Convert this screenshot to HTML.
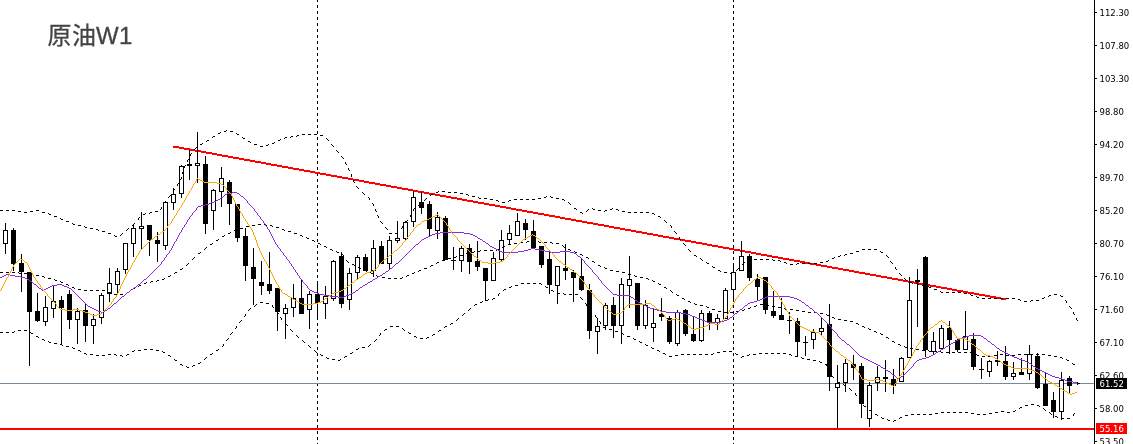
<!DOCTYPE html>
<html lang="zh"><head><meta charset="utf-8"><title>原油W1</title>
<style>html,body{margin:0;padding:0;background:#fff;overflow:hidden}svg{display:block}.ax{font-family:"DejaVu Sans","Liberation Sans",sans-serif;font-size:8.5px;fill:#000}.ttl{font-family:"Liberation Sans","Noto Sans CJK SC",sans-serif;font-size:24px;fill:#444;stroke:#444;stroke-width:0.3px}</style></head><body>
<svg width="1133" height="444" viewBox="0 0 1133 444">
<rect width="1133" height="444" fill="#fff"/>
<line x1="317.5" y1="0" x2="317.5" y2="444" stroke="#000" stroke-width="1" stroke-dasharray="3 3" stroke-dashoffset="1" shape-rendering="crispEdges"/>
<line x1="733.5" y1="0" x2="733.5" y2="444" stroke="#000" stroke-width="1" stroke-dasharray="3 3" stroke-dashoffset="1" shape-rendering="crispEdges"/>
<rect x="0" y="383" width="1094" height="1" fill="#778899" shape-rendering="crispEdges"/>
<path d="M173 146h6v2h-6zM179 147h5v2h-5zM184 148h6v2h-6zM190 149h5v2h-5zM195 150h6v2h-6zM201 151h5v2h-5zM206 152h6v2h-6zM212 153h5v2h-5zM217 154h5v2h-5zM222 155h6v2h-6zM228 156h5v2h-5zM233 157h6v2h-6zM239 158h5v2h-5zM244 159h6v2h-6zM250 160h5v2h-5zM255 161h6v2h-6zM261 162h5v2h-5zM266 163h5v2h-5zM271 164h6v2h-6zM277 165h5v2h-5zM282 166h6v2h-6zM288 167h5v2h-5zM293 168h6v2h-6zM299 169h5v2h-5zM304 170h6v2h-6zM310 171h5v2h-5zM315 172h5v2h-5zM320 173h6v2h-6zM326 174h5v2h-5zM331 175h6v2h-6zM337 176h5v2h-5zM342 177h6v2h-6zM348 178h5v2h-5zM353 179h6v2h-6zM359 180h5v2h-5zM364 181h5v2h-5zM369 182h6v2h-6zM375 183h5v2h-5zM380 184h6v2h-6zM386 185h5v2h-5zM391 186h6v2h-6zM397 187h5v2h-5zM402 188h6v2h-6zM408 189h5v2h-5zM413 190h5v2h-5zM418 191h6v2h-6zM424 192h5v2h-5zM429 193h6v2h-6zM435 194h5v2h-5zM440 195h6v2h-6zM446 196h5v2h-5zM451 197h6v2h-6zM457 198h5v2h-5zM462 199h5v2h-5zM467 200h6v2h-6zM473 201h5v2h-5zM478 202h6v2h-6zM484 203h5v2h-5zM489 204h6v2h-6zM495 205h5v2h-5zM500 206h6v2h-6zM506 207h5v2h-5zM511 208h5v2h-5zM516 209h6v2h-6zM522 210h5v2h-5zM527 211h6v2h-6zM533 212h5v2h-5zM538 213h6v2h-6zM544 214h5v2h-5zM549 215h6v2h-6zM555 216h5v2h-5zM560 217h5v2h-5zM565 218h6v2h-6zM571 219h5v2h-5zM576 220h6v2h-6zM582 221h5v2h-5zM587 222h6v2h-6zM593 223h5v2h-5zM598 224h6v2h-6zM604 225h5v2h-5zM609 226h5v2h-5zM614 227h6v2h-6zM620 228h5v2h-5zM625 229h6v2h-6zM631 230h5v2h-5zM636 231h6v2h-6zM642 232h5v2h-5zM647 233h6v2h-6zM653 234h5v2h-5zM658 235h5v2h-5zM663 236h6v2h-6zM669 237h5v2h-5zM674 238h6v2h-6zM680 239h5v2h-5zM685 240h6v2h-6zM691 241h5v2h-5zM696 242h6v2h-6zM702 243h5v2h-5zM707 244h5v2h-5zM712 245h6v2h-6zM718 246h5v2h-5zM723 247h6v2h-6zM729 248h5v2h-5zM734 249h6v2h-6zM740 250h5v2h-5zM745 251h6v2h-6zM751 252h5v2h-5zM756 253h5v2h-5zM761 254h6v2h-6zM767 255h5v2h-5zM772 256h6v2h-6zM778 257h5v2h-5zM783 258h6v2h-6zM789 259h5v2h-5zM794 260h6v2h-6zM800 261h5v2h-5zM805 262h5v2h-5zM810 263h6v2h-6zM816 264h5v2h-5zM821 265h6v2h-6zM827 266h5v2h-5zM832 267h6v2h-6zM838 268h5v2h-5zM843 269h6v2h-6zM849 270h5v2h-5zM854 271h5v2h-5zM859 272h6v2h-6zM865 273h5v2h-5zM870 274h6v2h-6zM876 275h5v2h-5zM881 276h6v2h-6zM887 277h5v2h-5zM892 278h6v2h-6zM898 279h5v2h-5zM903 280h5v2h-5zM908 281h6v2h-6zM914 282h5v2h-5zM919 283h6v2h-6zM925 284h5v2h-5zM930 285h6v2h-6zM936 286h5v2h-5zM941 287h6v2h-6zM947 288h5v2h-5zM952 289h5v2h-5zM957 290h6v2h-6zM963 291h5v2h-5zM968 292h6v2h-6zM974 293h5v2h-5zM979 294h6v2h-6zM985 295h5v2h-5zM990 296h6v2h-6zM996 297h5v2h-5zM1001 298h5v2h-5z" fill="#ff0000" shape-rendering="crispEdges"/>
<g shape-rendering="crispEdges">
<rect x="5" y="223" width="1" height="31" fill="#000"/><rect x="3" y="230" width="5" height="14" fill="#000"/><rect x="4" y="231" width="3" height="12" fill="#fff"/>
<rect x="13" y="228" width="1" height="43" fill="#000"/><rect x="11" y="230" width="5" height="34" fill="#000"/>
<rect x="21" y="254" width="1" height="38" fill="#000"/><rect x="19" y="263" width="5" height="9" fill="#000"/>
<rect x="29" y="272" width="1" height="94" fill="#000"/><rect x="27" y="272" width="5" height="40" fill="#000"/>
<rect x="37" y="293" width="1" height="29" fill="#000"/><rect x="35" y="311" width="5" height="10" fill="#000"/>
<rect x="45" y="296" width="1" height="30" fill="#000"/><rect x="43" y="307" width="5" height="15" fill="#000"/><rect x="44" y="308" width="3" height="13" fill="#fff"/>
<rect x="53" y="286" width="1" height="32" fill="#000"/><rect x="51" y="301" width="5" height="8" fill="#000"/><rect x="52" y="302" width="3" height="6" fill="#fff"/>
<rect x="61" y="296" width="1" height="48" fill="#000"/><rect x="59" y="300" width="5" height="8" fill="#000"/>
<rect x="69" y="290" width="1" height="39" fill="#000"/><rect x="67" y="294" width="5" height="26" fill="#000"/>
<rect x="77" y="308" width="1" height="36" fill="#000"/><rect x="75" y="311" width="5" height="9" fill="#000"/><rect x="76" y="312" width="3" height="7" fill="#fff"/>
<rect x="85" y="303" width="1" height="39" fill="#000"/><rect x="83" y="310" width="5" height="16" fill="#000"/>
<rect x="93" y="314" width="1" height="30" fill="#000"/><rect x="91" y="319" width="5" height="7" fill="#000"/><rect x="92" y="320" width="3" height="5" fill="#fff"/>
<rect x="101" y="293" width="1" height="31" fill="#000"/><rect x="99" y="295" width="5" height="23" fill="#000"/><rect x="100" y="296" width="3" height="21" fill="#fff"/>
<rect x="109" y="268" width="1" height="34" fill="#000"/><rect x="107" y="283" width="5" height="11" fill="#000"/><rect x="108" y="284" width="3" height="9" fill="#fff"/>
<rect x="117" y="268" width="1" height="25" fill="#000"/><rect x="115" y="271" width="5" height="14" fill="#000"/><rect x="116" y="272" width="3" height="12" fill="#fff"/>
<rect x="125" y="243" width="1" height="31" fill="#000"/><rect x="123" y="243" width="5" height="27" fill="#000"/><rect x="124" y="244" width="3" height="25" fill="#fff"/>
<rect x="133" y="224" width="1" height="33" fill="#000"/><rect x="131" y="228" width="5" height="16" fill="#000"/><rect x="132" y="229" width="3" height="14" fill="#fff"/>
<rect x="141" y="212" width="1" height="37" fill="#000"/><rect x="139" y="226" width="5" height="3" fill="#000"/><rect x="140" y="227" width="3" height="1" fill="#fff"/>
<rect x="149" y="225" width="1" height="31" fill="#000"/><rect x="147" y="225" width="5" height="15" fill="#000"/>
<rect x="157" y="232" width="1" height="30" fill="#000"/><rect x="155" y="240" width="5" height="4" fill="#000"/>
<rect x="165" y="202" width="1" height="48" fill="#000"/><rect x="163" y="202" width="5" height="44" fill="#000"/><rect x="164" y="203" width="3" height="42" fill="#fff"/>
<rect x="173" y="188" width="1" height="22" fill="#000"/><rect x="171" y="194" width="5" height="9" fill="#000"/><rect x="172" y="195" width="3" height="7" fill="#fff"/>
<rect x="181" y="165" width="1" height="33" fill="#000"/><rect x="179" y="166" width="5" height="28" fill="#000"/><rect x="180" y="167" width="3" height="26" fill="#fff"/>
<rect x="189" y="150" width="1" height="30" fill="#000"/><rect x="187" y="164" width="5" height="2" fill="#000"/>
<rect x="197" y="132" width="1" height="51" fill="#000"/><rect x="195" y="163" width="5" height="3" fill="#000"/><rect x="196" y="164" width="3" height="1" fill="#fff"/>
<rect x="205" y="156" width="1" height="78" fill="#000"/><rect x="203" y="164" width="5" height="60" fill="#000"/>
<rect x="213" y="189" width="1" height="41" fill="#000"/><rect x="211" y="190" width="5" height="21" fill="#000"/><rect x="212" y="191" width="3" height="19" fill="#fff"/>
<rect x="221" y="167" width="1" height="40" fill="#000"/><rect x="219" y="178" width="5" height="14" fill="#000"/><rect x="220" y="179" width="3" height="12" fill="#fff"/>
<rect x="229" y="180" width="1" height="45" fill="#000"/><rect x="227" y="182" width="5" height="22" fill="#000"/>
<rect x="237" y="204" width="1" height="38" fill="#000"/><rect x="235" y="204" width="5" height="34" fill="#000"/>
<rect x="245" y="228" width="1" height="53" fill="#000"/><rect x="243" y="236" width="5" height="30" fill="#000"/>
<rect x="253" y="248" width="1" height="57" fill="#000"/><rect x="251" y="267" width="5" height="12" fill="#000"/>
<rect x="261" y="261" width="1" height="34" fill="#000"/><rect x="259" y="282" width="5" height="4" fill="#000"/>
<rect x="269" y="252" width="1" height="42" fill="#000"/><rect x="267" y="284" width="5" height="7" fill="#000"/>
<rect x="277" y="288" width="1" height="43" fill="#000"/><rect x="275" y="288" width="5" height="24" fill="#000"/>
<rect x="285" y="304" width="1" height="35" fill="#000"/><rect x="283" y="308" width="5" height="6" fill="#000"/><rect x="284" y="309" width="3" height="4" fill="#fff"/>
<rect x="293" y="284" width="1" height="33" fill="#000"/><rect x="291" y="298" width="5" height="10" fill="#000"/><rect x="292" y="299" width="3" height="8" fill="#fff"/>
<rect x="301" y="279" width="1" height="35" fill="#000"/><rect x="299" y="298" width="5" height="16" fill="#000"/>
<rect x="309" y="291" width="1" height="38" fill="#000"/><rect x="307" y="294" width="5" height="16" fill="#000"/><rect x="308" y="295" width="3" height="14" fill="#fff"/>
<rect x="317" y="281" width="1" height="37" fill="#000"/><rect x="315" y="294" width="5" height="9" fill="#000"/>
<rect x="325" y="286" width="1" height="33" fill="#000"/><rect x="323" y="296" width="5" height="8" fill="#000"/><rect x="324" y="297" width="3" height="6" fill="#fff"/>
<rect x="333" y="260" width="1" height="41" fill="#000"/><rect x="331" y="261" width="5" height="38" fill="#000"/><rect x="332" y="262" width="3" height="36" fill="#fff"/>
<rect x="341" y="252" width="1" height="56" fill="#000"/><rect x="339" y="256" width="5" height="48" fill="#000"/>
<rect x="349" y="268" width="1" height="42" fill="#000"/><rect x="347" y="273" width="5" height="27" fill="#000"/><rect x="348" y="274" width="3" height="25" fill="#fff"/>
<rect x="357" y="255" width="1" height="25" fill="#000"/><rect x="355" y="257" width="5" height="16" fill="#000"/><rect x="356" y="258" width="3" height="14" fill="#fff"/>
<rect x="365" y="254" width="1" height="17" fill="#000"/><rect x="363" y="257" width="5" height="14" fill="#000"/>
<rect x="373" y="240" width="1" height="37" fill="#000"/><rect x="371" y="248" width="5" height="23" fill="#000"/><rect x="372" y="249" width="3" height="21" fill="#fff"/>
<rect x="381" y="241" width="1" height="23" fill="#000"/><rect x="379" y="246" width="5" height="18" fill="#000"/>
<rect x="389" y="236" width="1" height="34" fill="#000"/><rect x="387" y="240" width="5" height="24" fill="#000"/><rect x="388" y="241" width="3" height="22" fill="#fff"/>
<rect x="397" y="221" width="1" height="22" fill="#000"/><rect x="395" y="238" width="5" height="3" fill="#000"/><rect x="396" y="239" width="3" height="1" fill="#fff"/>
<rect x="405" y="221" width="1" height="19" fill="#000"/><rect x="403" y="222" width="5" height="17" fill="#000"/><rect x="404" y="223" width="3" height="15" fill="#fff"/>
<rect x="413" y="191" width="1" height="36" fill="#000"/><rect x="411" y="197" width="5" height="25" fill="#000"/><rect x="412" y="198" width="3" height="23" fill="#fff"/>
<rect x="421" y="192" width="1" height="22" fill="#000"/><rect x="419" y="202" width="5" height="6" fill="#000"/>
<rect x="429" y="201" width="1" height="36" fill="#000"/><rect x="427" y="204" width="5" height="25" fill="#000"/>
<rect x="437" y="212" width="1" height="27" fill="#000"/><rect x="435" y="217" width="5" height="14" fill="#000"/><rect x="436" y="218" width="3" height="12" fill="#fff"/>
<rect x="445" y="216" width="1" height="44" fill="#000"/><rect x="443" y="218" width="5" height="42" fill="#000"/>
<rect x="453" y="247" width="1" height="23" fill="#000"/><rect x="451" y="260" width="5" height="1" fill="#000"/>
<rect x="461" y="246" width="1" height="26" fill="#000"/><rect x="459" y="248" width="5" height="13" fill="#000"/><rect x="460" y="249" width="3" height="11" fill="#fff"/>
<rect x="469" y="244" width="1" height="30" fill="#000"/><rect x="467" y="248" width="5" height="14" fill="#000"/>
<rect x="477" y="241" width="1" height="30" fill="#000"/><rect x="475" y="261" width="5" height="6" fill="#000"/>
<rect x="485" y="268" width="1" height="33" fill="#000"/><rect x="483" y="268" width="5" height="13" fill="#000"/>
<rect x="493" y="252" width="1" height="29" fill="#000"/><rect x="491" y="258" width="5" height="23" fill="#000"/><rect x="492" y="259" width="3" height="21" fill="#fff"/>
<rect x="501" y="230" width="1" height="32" fill="#000"/><rect x="499" y="240" width="5" height="20" fill="#000"/><rect x="500" y="241" width="3" height="18" fill="#fff"/>
<rect x="509" y="225" width="1" height="19" fill="#000"/><rect x="507" y="233" width="5" height="7" fill="#000"/><rect x="508" y="234" width="3" height="5" fill="#fff"/>
<rect x="517" y="213" width="1" height="23" fill="#000"/><rect x="515" y="221" width="5" height="15" fill="#000"/><rect x="516" y="222" width="3" height="13" fill="#fff"/>
<rect x="525" y="219" width="1" height="21" fill="#000"/><rect x="523" y="223" width="5" height="7" fill="#000"/>
<rect x="533" y="220" width="1" height="28" fill="#000"/><rect x="531" y="231" width="5" height="17" fill="#000"/>
<rect x="541" y="246" width="1" height="22" fill="#000"/><rect x="539" y="246" width="5" height="19" fill="#000"/>
<rect x="549" y="250" width="1" height="44" fill="#000"/><rect x="547" y="259" width="5" height="26" fill="#000"/>
<rect x="557" y="266" width="1" height="38" fill="#000"/><rect x="555" y="266" width="5" height="20" fill="#000"/><rect x="556" y="267" width="3" height="18" fill="#fff"/>
<rect x="565" y="244" width="1" height="36" fill="#000"/><rect x="563" y="268" width="5" height="3" fill="#000"/>
<rect x="573" y="270" width="1" height="32" fill="#000"/><rect x="571" y="272" width="5" height="6" fill="#000"/>
<rect x="581" y="258" width="1" height="33" fill="#000"/><rect x="579" y="276" width="5" height="14" fill="#000"/>
<rect x="589" y="284" width="1" height="55" fill="#000"/><rect x="587" y="290" width="5" height="41" fill="#000"/>
<rect x="597" y="318" width="1" height="36" fill="#000"/><rect x="595" y="326" width="5" height="6" fill="#000"/><rect x="596" y="327" width="3" height="4" fill="#fff"/>
<rect x="605" y="303" width="1" height="27" fill="#000"/><rect x="603" y="305" width="5" height="21" fill="#000"/><rect x="604" y="306" width="3" height="19" fill="#fff"/>
<rect x="613" y="297" width="1" height="41" fill="#000"/><rect x="611" y="305" width="5" height="21" fill="#000"/>
<rect x="621" y="278" width="1" height="66" fill="#000"/><rect x="619" y="284" width="5" height="42" fill="#000"/><rect x="620" y="285" width="3" height="40" fill="#fff"/>
<rect x="629" y="256" width="1" height="52" fill="#000"/><rect x="627" y="279" width="5" height="7" fill="#000"/><rect x="628" y="280" width="3" height="5" fill="#fff"/>
<rect x="637" y="283" width="1" height="47" fill="#000"/><rect x="635" y="283" width="5" height="43" fill="#000"/>
<rect x="645" y="300" width="1" height="29" fill="#000"/><rect x="643" y="305" width="5" height="21" fill="#000"/><rect x="644" y="306" width="3" height="19" fill="#fff"/>
<rect x="653" y="308" width="1" height="34" fill="#000"/><rect x="651" y="323" width="5" height="5" fill="#000"/><rect x="652" y="324" width="3" height="3" fill="#fff"/>
<rect x="661" y="298" width="1" height="23" fill="#000"/><rect x="659" y="314" width="5" height="3" fill="#000"/>
<rect x="669" y="316" width="1" height="28" fill="#000"/><rect x="667" y="318" width="5" height="24" fill="#000"/>
<rect x="677" y="310" width="1" height="36" fill="#000"/><rect x="675" y="312" width="5" height="32" fill="#000"/><rect x="676" y="313" width="3" height="30" fill="#fff"/>
<rect x="685" y="309" width="1" height="27" fill="#000"/><rect x="683" y="310" width="5" height="24" fill="#000"/>
<rect x="693" y="316" width="1" height="26" fill="#000"/><rect x="691" y="334" width="5" height="7" fill="#000"/>
<rect x="701" y="310" width="1" height="32" fill="#000"/><rect x="699" y="313" width="5" height="28" fill="#000"/><rect x="700" y="314" width="3" height="26" fill="#fff"/>
<rect x="709" y="311" width="1" height="19" fill="#000"/><rect x="707" y="313" width="5" height="9" fill="#000"/>
<rect x="717" y="314" width="1" height="16" fill="#000"/><rect x="715" y="318" width="5" height="5" fill="#000"/><rect x="716" y="319" width="3" height="3" fill="#fff"/>
<rect x="725" y="288" width="1" height="31" fill="#000"/><rect x="723" y="290" width="5" height="29" fill="#000"/><rect x="724" y="291" width="3" height="27" fill="#fff"/>
<rect x="733" y="264" width="1" height="36" fill="#000"/><rect x="731" y="272" width="5" height="18" fill="#000"/><rect x="732" y="273" width="3" height="16" fill="#fff"/>
<rect x="741" y="241" width="1" height="30" fill="#000"/><rect x="739" y="256" width="5" height="15" fill="#000"/><rect x="740" y="257" width="3" height="13" fill="#fff"/>
<rect x="749" y="254" width="1" height="27" fill="#000"/><rect x="747" y="256" width="5" height="22" fill="#000"/>
<rect x="757" y="274" width="1" height="26" fill="#000"/><rect x="755" y="279" width="5" height="8" fill="#000"/>
<rect x="765" y="277" width="1" height="37" fill="#000"/><rect x="763" y="277" width="5" height="33" fill="#000"/>
<rect x="773" y="291" width="1" height="27" fill="#000"/><rect x="771" y="311" width="5" height="5" fill="#000"/>
<rect x="781" y="298" width="1" height="22" fill="#000"/><rect x="779" y="315" width="5" height="5" fill="#000"/>
<rect x="789" y="312" width="1" height="22" fill="#000"/><rect x="787" y="320" width="5" height="1" fill="#000"/>
<rect x="797" y="318" width="1" height="38" fill="#000"/><rect x="795" y="321" width="5" height="21" fill="#000"/>
<rect x="805" y="336" width="1" height="20" fill="#000"/><rect x="803" y="342" width="5" height="1" fill="#000"/>
<rect x="813" y="329" width="1" height="20" fill="#000"/><rect x="811" y="332" width="5" height="8" fill="#000"/><rect x="812" y="333" width="3" height="6" fill="#fff"/>
<rect x="821" y="318" width="1" height="18" fill="#000"/><rect x="819" y="328" width="5" height="4" fill="#000"/><rect x="820" y="329" width="3" height="2" fill="#fff"/>
<rect x="829" y="304" width="1" height="87" fill="#000"/><rect x="827" y="324" width="5" height="53" fill="#000"/>
<rect x="837" y="365" width="1" height="63" fill="#000"/><rect x="835" y="383" width="5" height="5" fill="#000"/><rect x="836" y="384" width="3" height="3" fill="#fff"/>
<rect x="845" y="359" width="1" height="33" fill="#000"/><rect x="843" y="363" width="5" height="20" fill="#000"/><rect x="844" y="364" width="3" height="18" fill="#fff"/>
<rect x="853" y="355" width="1" height="25" fill="#000"/><rect x="851" y="364" width="5" height="4" fill="#000"/>
<rect x="861" y="363" width="1" height="55" fill="#000"/><rect x="859" y="366" width="5" height="38" fill="#000"/>
<rect x="869" y="382" width="1" height="45" fill="#000"/><rect x="867" y="385" width="5" height="34" fill="#000"/><rect x="868" y="386" width="3" height="32" fill="#fff"/>
<rect x="877" y="366" width="1" height="25" fill="#000"/><rect x="875" y="377" width="5" height="6" fill="#000"/><rect x="876" y="378" width="3" height="4" fill="#fff"/>
<rect x="885" y="360" width="1" height="32" fill="#000"/><rect x="883" y="377" width="5" height="2" fill="#000"/>
<rect x="893" y="369" width="1" height="25" fill="#000"/><rect x="891" y="379" width="5" height="7" fill="#000"/>
<rect x="901" y="357" width="1" height="25" fill="#000"/><rect x="899" y="358" width="5" height="24" fill="#000"/><rect x="900" y="359" width="3" height="22" fill="#fff"/>
<rect x="909" y="277" width="1" height="81" fill="#000"/><rect x="907" y="300" width="5" height="58" fill="#000"/><rect x="908" y="301" width="3" height="56" fill="#fff"/>
<rect x="917" y="269" width="1" height="58" fill="#000"/><rect x="915" y="280" width="5" height="2" fill="#000"/>
<rect x="925" y="256" width="1" height="101" fill="#000"/><rect x="923" y="257" width="5" height="93" fill="#000"/>
<rect x="933" y="332" width="1" height="22" fill="#000"/><rect x="931" y="341" width="5" height="11" fill="#000"/><rect x="932" y="342" width="3" height="9" fill="#fff"/>
<rect x="941" y="325" width="1" height="24" fill="#000"/><rect x="939" y="328" width="5" height="21" fill="#000"/><rect x="940" y="329" width="3" height="19" fill="#fff"/>
<rect x="949" y="321" width="1" height="33" fill="#000"/><rect x="947" y="328" width="5" height="12" fill="#000"/>
<rect x="957" y="338" width="1" height="14" fill="#000"/><rect x="955" y="340" width="5" height="10" fill="#000"/>
<rect x="965" y="311" width="1" height="39" fill="#000"/><rect x="963" y="336" width="5" height="14" fill="#000"/><rect x="964" y="337" width="3" height="12" fill="#fff"/>
<rect x="973" y="333" width="1" height="37" fill="#000"/><rect x="971" y="339" width="5" height="28" fill="#000"/>
<rect x="981" y="358" width="1" height="21" fill="#000"/><rect x="979" y="369" width="5" height="1" fill="#000"/>
<rect x="989" y="360" width="1" height="17" fill="#000"/><rect x="987" y="361" width="5" height="11" fill="#000"/><rect x="988" y="362" width="3" height="9" fill="#fff"/>
<rect x="997" y="351" width="1" height="15" fill="#000"/><rect x="995" y="360" width="5" height="2" fill="#000"/>
<rect x="1005" y="346" width="1" height="34" fill="#000"/><rect x="1003" y="361" width="5" height="16" fill="#000"/>
<rect x="1013" y="362" width="1" height="18" fill="#000"/><rect x="1011" y="373" width="5" height="4" fill="#000"/><rect x="1012" y="374" width="3" height="2" fill="#fff"/>
<rect x="1021" y="358" width="1" height="17" fill="#000"/><rect x="1019" y="372" width="5" height="3" fill="#000"/>
<rect x="1029" y="345" width="1" height="35" fill="#000"/><rect x="1027" y="354" width="5" height="20" fill="#000"/><rect x="1028" y="355" width="3" height="18" fill="#fff"/>
<rect x="1037" y="353" width="1" height="36" fill="#000"/><rect x="1035" y="356" width="5" height="32" fill="#000"/>
<rect x="1045" y="373" width="1" height="33" fill="#000"/><rect x="1043" y="384" width="5" height="22" fill="#000"/>
<rect x="1053" y="392" width="1" height="26" fill="#000"/><rect x="1051" y="400" width="5" height="12" fill="#000"/>
<rect x="1061" y="372" width="1" height="48" fill="#000"/><rect x="1059" y="380" width="5" height="32" fill="#000"/><rect x="1060" y="381" width="3" height="30" fill="#fff"/>
<rect x="1069" y="376" width="1" height="18" fill="#000"/><rect x="1067" y="378" width="5" height="8" fill="#000"/>
</g>
<path d="M224 131h2v1h-2zM230 131h3v1h-3zM218 133h2v1h-2zM237 134h2v1h-2zM302 134h3v1h-3zM308 134h3v1h-3zM314 134h3v1h-3zM297 135h2v1h-2zM320 135h3v1h-3zM213 136h2v1h-2zM291 136h2v1h-2zM285 137h2v1h-2zM243 138h2v1h-2zM207 140h2v1h-2zM278 140h2v1h-2zM248 141h2v1h-2zM272 143h2v1h-2zM200 144h2v1h-2zM254 144h3v1h-3zM266 145h2v1h-2zM260 146h3v1h-3zM442 191h3v1h-3zM436 192h2v1h-2zM448 192h3v1h-3zM454 192h3v1h-3zM460 193h3v1h-3zM431 194h2v1h-2zM466 194h2v1h-2zM472 196h3v1h-3zM544 197h2v1h-2zM551 197h2v1h-2zM479 198h2v1h-2zM484 198h3v1h-3zM538 198h3v1h-3zM556 198h3v1h-3zM490 199h3v1h-3zM514 199h3v1h-3zM520 199h3v1h-3zM526 199h3v1h-3zM532 199h3v1h-3zM562 199h2v1h-2zM496 200h2v1h-2zM509 200h2v1h-2zM502 202h3v1h-3zM574 208h2v1h-2zM593 209h2v1h-2zM610 209h2v1h-2zM616 209h2v1h-2zM0 210h3v1h-3zM6 210h3v1h-3zM12 210h3v1h-3zM36 210h3v1h-3zM598 210h3v1h-3zM605 210h2v1h-2zM18 211h3v1h-3zM30 211h3v1h-3zM155 211h3v1h-3zM622 211h3v1h-3zM24 212h3v1h-3zM42 212h3v1h-3zM150 212h2v1h-2zM580 212h2v1h-2zM628 212h3v1h-3zM634 212h3v1h-3zM640 212h3v1h-3zM646 212h3v1h-3zM652 213h2v1h-2zM49 214h2v1h-2zM143 214h2v1h-2zM54 216h3v1h-3zM658 216h2v1h-2zM61 219h2v1h-2zM66 221h3v1h-3zM73 224h2v1h-2zM78 225h3v1h-3zM85 227h2v1h-2zM90 228h3v1h-3zM96 229h2v1h-2zM102 231h3v1h-3zM108 233h3v1h-3zM389 233h3v1h-3zM395 233h2v1h-2zM115 236h2v1h-2zM862 249h3v1h-3zM868 249h3v1h-3zM874 249h3v1h-3zM856 251h3v1h-3zM881 252h2v1h-2zM850 253h3v1h-3zM845 254h2v1h-2zM694 255h2v1h-2zM838 256h2v1h-2zM832 258h2v1h-2zM754 259h3v1h-3zM760 259h3v1h-3zM766 259h3v1h-3zM748 260h3v1h-3zM773 260h2v1h-2zM778 260h2v1h-2zM826 261h2v1h-2zM784 262h2v1h-2zM820 262h3v1h-3zM707 263h2v1h-2zM797 263h2v1h-2zM802 263h3v1h-3zM808 263h3v1h-3zM814 263h3v1h-3zM790 264h3v1h-3zM713 267h2v1h-2zM718 270h2v1h-2zM724 272h3v1h-3zM730 273h2v1h-2zM910 282h2v1h-2zM916 283h2v1h-2zM922 285h3v1h-3zM929 287h2v1h-2zM934 289h3v1h-3zM941 292h2v1h-2zM946 292h3v1h-3zM952 292h3v1h-3zM958 292h3v1h-3zM964 293h3v1h-3zM1054 294h3v1h-3zM971 295h2v1h-2zM1049 295h2v1h-2zM1061 296h2v1h-2zM977 297h2v1h-2zM982 298h3v1h-3zM988 298h3v1h-3zM994 298h3v1h-3zM1000 298h3v1h-3zM1006 298h3v1h-3zM1012 298h3v1h-3zM1042 298h2v1h-2zM1018 299h2v1h-2zM1031 300h2v1h-2zM1036 300h3v1h-3zM1024 301h3v1h-3zM48 213h1v1h-1zM60 218h1v1h-1zM72 223h1v1h-1zM84 226h1v1h-1zM98 230h1v1h-1zM114 235h1v1h-1zM120 235h1v1h-1zM121 234h1v1h-1zM122 233h1v1h-1zM126 230h1v1h-1zM127 229h1v1h-1zM128 228h1v1h-1zM132 225h1v1h-1zM133 224h1v1h-1zM134 223h1v1h-1zM138 218h1v2h-1zM139 217h1v1h-1zM145 213h1v1h-1zM149 213h1v1h-1zM160 209h1v1h-1zM161 207h1v2h-1zM163 203h1v1h-1zM164 202h1v1h-1zM165 201h1v1h-1zM168 197h1v1h-1zM169 196h1v1h-1zM170 195h1v1h-1zM173 190h1v2h-1zM174 189h1v1h-1zM177 184h1v2h-1zM178 183h1v1h-1zM180 179h1v1h-1zM181 177h1v2h-1zM182 172h1v2h-1zM183 171h1v1h-1zM184 166h1v2h-1zM185 165h1v1h-1zM187 160h1v2h-1zM188 159h1v1h-1zM190 154h1v2h-1zM191 153h1v1h-1zM194 149h1v1h-1zM195 148h1v1h-1zM196 147h1v1h-1zM202 143h1v1h-1zM206 141h1v1h-1zM212 137h1v1h-1zM220 132h1v1h-1zM226 130h1v1h-1zM236 133h1v1h-1zM242 137h1v1h-1zM250 142h1v1h-1zM268 144h1v1h-1zM274 142h1v1h-1zM280 139h1v1h-1zM284 138h1v1h-1zM290 137h1v1h-1zM296 136h1v1h-1zM326 138h1v1h-1zM327 139h1v1h-1zM328 140h1v1h-1zM331 144h1v1h-1zM332 145h1v1h-1zM333 146h1v1h-1zM336 150h1v1h-1zM337 151h1v1h-1zM338 152h1v1h-1zM341 156h1v1h-1zM342 157h1v1h-1zM343 158h1v1h-1zM345 162h1v2h-1zM346 164h1v1h-1zM348 168h1v2h-1zM349 170h1v1h-1zM351 174h1v3h-1zM353 180h1v2h-1zM354 182h1v1h-1zM356 186h1v1h-1zM357 187h1v1h-1zM358 188h1v1h-1zM362 192h1v1h-1zM363 193h1v1h-1zM364 194h1v1h-1zM368 197h1v1h-1zM369 198h1v2h-1zM372 203h1v1h-1zM373 204h1v2h-1zM375 209h1v2h-1zM376 211h1v1h-1zM377 215h1v1h-1zM378 216h1v2h-1zM380 221h1v1h-1zM381 222h1v1h-1zM382 223h1v1h-1zM385 227h1v1h-1zM386 228h1v1h-1zM387 229h1v1h-1zM397 232h1v1h-1zM401 228h1v1h-1zM402 226h1v2h-1zM406 221h1v2h-1zM407 220h1v1h-1zM410 215h1v2h-1zM411 214h1v1h-1zM413 209h1v2h-1zM414 208h1v1h-1zM418 205h1v1h-1zM419 204h1v1h-1zM420 203h1v1h-1zM424 200h1v1h-1zM425 199h1v1h-1zM426 198h1v1h-1zM430 195h1v1h-1zM438 191h1v1h-1zM468 195h1v1h-1zM478 197h1v1h-1zM498 201h1v1h-1zM508 201h1v1h-1zM546 196h1v1h-1zM550 196h1v1h-1zM564 200h1v1h-1zM568 202h1v1h-1zM569 203h1v1h-1zM570 204h1v1h-1zM576 209h1v1h-1zM582 213h1v1h-1zM586 211h1v1h-1zM587 210h1v1h-1zM588 209h1v1h-1zM592 208h1v1h-1zM604 211h1v1h-1zM612 208h1v1h-1zM618 210h1v1h-1zM654 214h1v1h-1zM660 217h1v1h-1zM664 220h1v1h-1zM665 221h1v1h-1zM666 222h1v1h-1zM670 225h1v1h-1zM671 226h1v2h-1zM674 231h1v1h-1zM675 232h1v1h-1zM676 233h1v1h-1zM679 237h1v2h-1zM680 239h1v1h-1zM683 243h1v1h-1zM684 244h1v1h-1zM685 245h1v1h-1zM688 249h1v1h-1zM689 250h1v1h-1zM690 251h1v1h-1zM696 256h1v1h-1zM700 258h1v1h-1zM701 259h1v1h-1zM702 260h1v1h-1zM706 262h1v1h-1zM712 266h1v1h-1zM720 271h1v1h-1zM732 272h1v1h-1zM736 270h1v1h-1zM737 269h1v1h-1zM738 268h1v1h-1zM742 264h1v1h-1zM743 263h1v1h-1zM744 262h1v1h-1zM772 259h1v1h-1zM780 261h1v1h-1zM786 263h1v1h-1zM796 264h1v1h-1zM828 260h1v1h-1zM834 257h1v1h-1zM840 255h1v1h-1zM844 255h1v1h-1zM880 251h1v1h-1zM886 255h1v1h-1zM887 256h1v1h-1zM888 257h1v1h-1zM890 261h1v1h-1zM891 262h1v1h-1zM892 263h1v1h-1zM895 267h1v2h-1zM896 269h1v1h-1zM899 273h1v1h-1zM900 274h1v1h-1zM901 275h1v1h-1zM904 278h1v1h-1zM905 279h1v1h-1zM906 280h1v1h-1zM912 283h1v1h-1zM918 284h1v1h-1zM928 286h1v1h-1zM940 291h1v1h-1zM970 294h1v1h-1zM976 296h1v1h-1zM1020 300h1v1h-1zM1030 301h1v1h-1zM1044 297h1v1h-1zM1048 296h1v1h-1zM1060 295h1v1h-1zM1065 300h1v1h-1zM1066 301h1v2h-1zM1069 306h1v1h-1zM1070 307h1v1h-1zM1071 308h1v1h-1zM1073 312h1v2h-1zM1074 314h1v1h-1zM1076 318h1v2h-1zM1077 320h1v1h-1z" fill="#000" shape-rendering="crispEdges"/>
<path d="M258 224h3v1h-3zM264 224h2v1h-2zM252 225h3v1h-3zM270 225h2v1h-2zM246 226h3v1h-3zM276 227h3v1h-3zM240 228h3v1h-3zM282 229h2v1h-2zM234 230h2v1h-2zM288 231h3v1h-3zM228 233h2v1h-2zM294 233h3v1h-3zM300 235h2v1h-2zM222 236h2v1h-2zM307 238h2v1h-2zM216 240h2v1h-2zM312 240h2v1h-2zM527 241h2v1h-2zM532 241h3v1h-3zM520 242h3v1h-3zM539 242h2v1h-2zM544 242h3v1h-3zM550 242h2v1h-2zM318 243h2v1h-2zM514 243h3v1h-3zM556 243h3v1h-3zM210 244h2v1h-2zM508 244h3v1h-3zM324 246h2v1h-2zM503 246h2v1h-2zM330 249h2v1h-2zM497 249h2v1h-2zM568 249h2v1h-2zM484 250h3v1h-3zM490 250h3v1h-3zM478 251h2v1h-2zM337 252h2v1h-2zM472 252h2v1h-2zM575 252h2v1h-2zM198 253h2v1h-2zM466 253h3v1h-3zM580 254h2v1h-2zM460 255h3v1h-3zM454 257h2v1h-2zM586 257h2v1h-2zM448 258h3v1h-3zM442 260h3v1h-3zM592 261h2v1h-2zM437 262h2v1h-2zM352 264h2v1h-2zM431 265h2v1h-2zM598 265h2v1h-2zM358 267h2v1h-2zM424 268h3v1h-3zM605 268h2v1h-2zM180 269h2v1h-2zM364 270h2v1h-2zM419 270h2v1h-2zM610 270h3v1h-3zM616 271h3v1h-3zM0 272h3v1h-3zM6 272h3v1h-3zM12 272h3v1h-3zM175 272h2v1h-2zM622 272h3v1h-3zM19 273h2v1h-2zM24 273h3v1h-3zM371 273h2v1h-2zM412 273h2v1h-2zM30 274h3v1h-3zM628 274h3v1h-3zM36 275h3v1h-3zM407 275h2v1h-2zM42 276h2v1h-2zM168 276h2v1h-2zM377 276h2v1h-2zM635 276h2v1h-2zM382 277h3v1h-3zM640 277h3v1h-3zM48 278h3v1h-3zM388 278h3v1h-3zM394 278h3v1h-3zM400 278h2v1h-2zM646 278h2v1h-2zM162 279h2v1h-2zM55 280h2v1h-2zM157 280h2v1h-2zM151 281h2v1h-2zM653 281h2v1h-2zM61 282h2v1h-2zM144 283h2v1h-2zM66 284h2v1h-2zM659 284h2v1h-2zM139 285h2v1h-2zM72 287h2v1h-2zM664 287h2v1h-2zM133 288h2v1h-2zM78 289h3v1h-3zM84 290h3v1h-3zM90 290h3v1h-3zM96 290h3v1h-3zM102 290h3v1h-3zM108 292h3v1h-3zM127 292h2v1h-2zM114 294h3v1h-3zM120 294h3v1h-3zM677 295h2v1h-2zM682 298h2v1h-2zM688 301h2v1h-2zM695 304h2v1h-2zM760 304h3v1h-3zM700 305h3v1h-3zM766 305h3v1h-3zM754 306h2v1h-2zM772 306h3v1h-3zM707 307h2v1h-2zM778 307h3v1h-3zM748 308h2v1h-2zM712 309h3v1h-3zM785 309h2v1h-2zM790 309h3v1h-3zM742 310h2v1h-2zM796 310h3v1h-3zM718 311h3v1h-3zM736 311h3v1h-3zM802 311h3v1h-3zM724 312h3v1h-3zM730 312h3v1h-3zM808 312h3v1h-3zM814 312h3v1h-3zM820 313h3v1h-3zM827 315h2v1h-2zM832 317h2v1h-2zM838 319h3v1h-3zM844 320h3v1h-3zM850 321h3v1h-3zM856 323h2v1h-2zM862 326h2v1h-2zM869 329h2v1h-2zM874 331h2v1h-2zM881 334h2v1h-2zM886 337h2v1h-2zM892 341h2v1h-2zM898 344h2v1h-2zM905 347h2v1h-2zM910 348h3v1h-3zM916 349h3v1h-3zM922 350h3v1h-3zM929 351h2v1h-2zM934 351h3v1h-3zM941 352h2v1h-2zM946 352h3v1h-3zM952 352h3v1h-3zM958 352h3v1h-3zM964 352h3v1h-3zM970 352h2v1h-2zM1000 354h3v1h-3zM1018 354h3v1h-3zM1024 354h3v1h-3zM1030 354h3v1h-3zM1036 354h3v1h-3zM1042 354h3v1h-3zM977 355h2v1h-2zM994 355h3v1h-3zM1006 355h3v1h-3zM1012 355h3v1h-3zM1048 355h3v1h-3zM982 356h3v1h-3zM988 356h3v1h-3zM1054 356h3v1h-3zM1060 357h2v1h-2zM1067 360h2v1h-2zM1073 364h2v1h-2zM18 272h1v1h-1zM44 277h1v1h-1zM54 279h1v1h-1zM60 281h1v1h-1zM68 285h1v1h-1zM74 288h1v1h-1zM126 293h1v1h-1zM132 289h1v1h-1zM138 286h1v1h-1zM146 282h1v1h-1zM150 282h1v1h-1zM156 281h1v1h-1zM164 278h1v1h-1zM170 275h1v1h-1zM174 273h1v1h-1zM182 268h1v1h-1zM186 265h1v1h-1zM187 264h1v1h-1zM188 263h1v1h-1zM192 259h1v1h-1zM193 258h1v1h-1zM194 257h1v1h-1zM200 252h1v1h-1zM204 249h1v1h-1zM205 248h1v1h-1zM206 247h1v1h-1zM212 243h1v1h-1zM218 239h1v1h-1zM224 235h1v1h-1zM230 232h1v1h-1zM236 229h1v1h-1zM266 225h1v1h-1zM272 226h1v1h-1zM284 230h1v1h-1zM302 236h1v1h-1zM306 237h1v1h-1zM314 241h1v1h-1zM320 244h1v1h-1zM326 247h1v1h-1zM332 250h1v1h-1zM336 251h1v1h-1zM342 254h1v1h-1zM343 255h1v2h-1zM346 260h1v1h-1zM347 261h1v1h-1zM348 262h1v1h-1zM354 265h1v1h-1zM360 268h1v1h-1zM366 271h1v1h-1zM370 272h1v1h-1zM376 275h1v1h-1zM402 277h1v1h-1zM406 276h1v1h-1zM414 272h1v1h-1zM418 271h1v1h-1zM430 266h1v1h-1zM436 263h1v1h-1zM456 256h1v1h-1zM474 251h1v1h-1zM480 250h1v1h-1zM496 250h1v1h-1zM502 247h1v1h-1zM526 242h1v1h-1zM538 241h1v1h-1zM552 243h1v1h-1zM562 245h1v1h-1zM563 246h1v1h-1zM564 247h1v1h-1zM570 250h1v1h-1zM574 251h1v1h-1zM582 255h1v1h-1zM588 258h1v1h-1zM594 262h1v1h-1zM600 266h1v1h-1zM604 267h1v1h-1zM634 275h1v1h-1zM648 279h1v1h-1zM652 280h1v1h-1zM658 283h1v1h-1zM666 288h1v1h-1zM670 290h1v1h-1zM671 291h1v1h-1zM672 292h1v1h-1zM676 294h1v1h-1zM684 299h1v1h-1zM690 302h1v1h-1zM694 303h1v1h-1zM706 306h1v1h-1zM744 309h1v1h-1zM750 307h1v1h-1zM756 305h1v1h-1zM784 308h1v1h-1zM826 314h1v1h-1zM834 318h1v1h-1zM858 324h1v1h-1zM864 327h1v1h-1zM868 328h1v1h-1zM876 332h1v1h-1zM880 333h1v1h-1zM888 338h1v1h-1zM894 342h1v1h-1zM900 345h1v1h-1zM904 346h1v1h-1zM928 350h1v1h-1zM940 351h1v1h-1zM972 353h1v1h-1zM976 354h1v1h-1zM1062 358h1v1h-1zM1066 359h1v1h-1zM1072 363h1v1h-1z" fill="#000" shape-rendering="crispEdges"/>
<path d="M521 283h3v1h-3zM527 283h3v1h-3zM533 283h3v1h-3zM539 283h2v1h-2zM515 285h3v1h-3zM509 287h2v1h-2zM546 287h2v1h-2zM504 289h2v1h-2zM551 290h2v1h-2zM558 293h2v1h-2zM564 294h2v1h-2zM569 294h3v1h-3zM575 294h3v1h-3zM493 298h2v1h-2zM486 300h2v1h-2zM260 302h3v1h-3zM480 302h2v1h-2zM266 303h3v1h-3zM475 304h2v1h-2zM451 323h2v1h-2zM390 326h3v1h-3zM396 326h3v1h-3zM445 326h2v1h-2zM603 327h2v1h-2zM385 329h2v1h-2zM609 329h3v1h-3zM18 330h3v1h-3zM24 330h3v1h-3zM439 330h2v1h-2zM615 331h3v1h-3zM0 332h3v1h-3zM6 332h3v1h-3zM12 332h2v1h-2zM31 333h2v1h-2zM409 333h2v1h-2zM621 333h2v1h-2zM433 334h2v1h-2zM36 336h2v1h-2zM414 336h2v1h-2zM627 336h3v1h-3zM427 337h2v1h-2zM420 338h3v1h-3zM42 339h2v1h-2zM634 339h2v1h-2zM49 342h2v1h-2zM640 342h2v1h-2zM54 343h3v1h-3zM60 344h2v1h-2zM646 345h2v1h-2zM66 346h3v1h-3zM362 347h3v1h-3zM73 348h2v1h-2zM652 348h2v1h-2zM144 349h3v1h-3zM150 349h3v1h-3zM356 349h2v1h-2zM78 350h2v1h-2zM138 350h3v1h-3zM156 350h3v1h-3zM216 350h2v1h-2zM657 350h2v1h-2zM132 351h2v1h-2zM723 351h3v1h-3zM729 351h3v1h-3zM163 352h2v1h-2zM717 352h3v1h-3zM84 353h2v1h-2zM350 353h2v1h-2zM663 353h2v1h-2zM759 353h3v1h-3zM765 353h3v1h-3zM771 353h3v1h-3zM777 353h3v1h-3zM783 353h3v1h-3zM90 354h3v1h-3zM108 354h3v1h-3zM114 354h2v1h-2zM127 354h2v1h-2zM210 354h2v1h-2zM681 354h3v1h-3zM687 354h3v1h-3zM693 354h3v1h-3zM699 354h3v1h-3zM705 354h3v1h-3zM711 354h2v1h-2zM736 354h2v1h-2zM753 354h3v1h-3zM789 354h2v1h-2zM96 355h3v1h-3zM102 355h3v1h-3zM120 355h2v1h-2zM168 355h2v1h-2zM321 355h2v1h-2zM675 355h3v1h-3zM747 355h2v1h-2zM345 356h2v1h-2zM669 356h3v1h-3zM742 356h2v1h-2zM795 356h3v1h-3zM327 358h2v1h-2zM802 358h2v1h-2zM332 359h3v1h-3zM807 359h3v1h-3zM175 360h2v1h-2zM338 360h2v1h-2zM813 360h3v1h-3zM820 362h2v1h-2zM198 363h2v1h-2zM180 364h2v1h-2zM825 364h2v1h-2zM193 365h2v1h-2zM187 367h2v1h-2zM838 382h2v1h-2zM1031 404h3v1h-3zM1025 405h3v1h-3zM1037 405h2v1h-2zM864 406h2v1h-2zM1020 407h2v1h-2zM869 410h2v1h-2zM1001 411h3v1h-3zM1013 411h2v1h-2zM941 412h3v1h-3zM947 412h3v1h-3zM953 412h3v1h-3zM959 412h3v1h-3zM965 412h3v1h-3zM995 412h3v1h-3zM1007 412h3v1h-3zM935 413h3v1h-3zM971 413h3v1h-3zM989 413h3v1h-3zM875 414h2v1h-2zM911 414h3v1h-3zM917 414h3v1h-3zM923 414h3v1h-3zM929 414h3v1h-3zM977 414h3v1h-3zM983 414h3v1h-3zM905 415h3v1h-3zM1055 416h2v1h-2zM900 417h2v1h-2zM882 418h2v1h-2zM1061 418h3v1h-3zM1067 418h3v1h-3zM888 420h2v1h-2zM894 420h2v1h-2zM14 331h1v1h-1zM30 332h1v1h-1zM38 337h1v1h-1zM44 340h1v1h-1zM48 341h1v1h-1zM62 345h1v1h-1zM72 347h1v1h-1zM80 351h1v1h-1zM86 354h1v1h-1zM116 355h1v1h-1zM122 356h1v1h-1zM126 355h1v1h-1zM134 350h1v1h-1zM162 351h1v1h-1zM170 356h1v1h-1zM174 359h1v1h-1zM182 365h1v1h-1zM186 366h1v1h-1zM192 366h1v1h-1zM200 362h1v1h-1zM204 359h1v1h-1zM205 358h1v1h-1zM206 357h1v1h-1zM212 353h1v1h-1zM218 349h1v1h-1zM222 346h1v1h-1zM223 344h1v2h-1zM226 340h1v1h-1zM227 339h1v1h-1zM228 338h1v1h-1zM230 334h1v1h-1zM231 333h1v1h-1zM232 332h1v1h-1zM235 328h1v1h-1zM236 326h1v2h-1zM239 322h1v1h-1zM240 321h1v1h-1zM241 320h1v1h-1zM244 316h1v1h-1zM245 314h1v2h-1zM248 310h1v1h-1zM249 309h1v1h-1zM250 308h1v1h-1zM254 306h1v1h-1zM255 305h1v1h-1zM256 304h1v1h-1zM272 305h1v2h-1zM273 307h1v1h-1zM276 311h1v1h-1zM277 312h1v1h-1zM278 313h1v1h-1zM280 317h1v1h-1zM281 318h1v2h-1zM285 323h1v1h-1zM286 324h1v1h-1zM287 325h1v1h-1zM290 329h1v1h-1zM291 330h1v1h-1zM292 331h1v1h-1zM296 335h1v1h-1zM297 336h1v1h-1zM298 337h1v1h-1zM302 340h1v1h-1zM303 341h1v1h-1zM304 342h1v1h-1zM308 345h1v1h-1zM309 346h1v1h-1zM310 347h1v1h-1zM314 350h1v1h-1zM315 351h1v1h-1zM316 352h1v1h-1zM320 354h1v1h-1zM326 357h1v1h-1zM340 359h1v1h-1zM344 357h1v1h-1zM352 352h1v1h-1zM358 348h1v1h-1zM368 346h1v1h-1zM369 345h1v1h-1zM370 344h1v1h-1zM374 341h1v1h-1zM375 340h1v1h-1zM376 339h1v1h-1zM379 335h1v1h-1zM380 333h1v2h-1zM384 330h1v1h-1zM402 328h1v1h-1zM403 329h1v1h-1zM404 330h1v1h-1zM408 332h1v1h-1zM416 337h1v1h-1zM426 338h1v1h-1zM432 335h1v1h-1zM438 331h1v1h-1zM444 327h1v1h-1zM450 324h1v1h-1zM456 320h1v1h-1zM457 319h1v1h-1zM458 318h1v1h-1zM462 315h1v1h-1zM463 314h1v1h-1zM464 313h1v1h-1zM468 310h1v1h-1zM469 309h1v1h-1zM470 308h1v1h-1zM474 305h1v1h-1zM482 301h1v1h-1zM488 299h1v1h-1zM492 299h1v1h-1zM498 294h1v2h-1zM499 293h1v1h-1zM503 290h1v1h-1zM511 286h1v1h-1zM541 284h1v1h-1zM545 286h1v1h-1zM553 291h1v1h-1zM557 292h1v1h-1zM563 293h1v1h-1zM580 297h1v1h-1zM581 298h1v1h-1zM582 299h1v1h-1zM585 303h1v1h-1zM586 304h1v2h-1zM590 309h1v1h-1zM591 310h1v2h-1zM595 315h1v2h-1zM596 317h1v1h-1zM599 321h1v1h-1zM600 322h1v2h-1zM605 328h1v1h-1zM623 334h1v1h-1zM633 338h1v1h-1zM639 341h1v1h-1zM645 344h1v1h-1zM651 347h1v1h-1zM659 351h1v1h-1zM665 354h1v1h-1zM713 353h1v1h-1zM735 353h1v1h-1zM741 357h1v1h-1zM749 354h1v1h-1zM791 355h1v1h-1zM801 357h1v1h-1zM819 361h1v1h-1zM826 365h1v1h-1zM828 369h1v2h-1zM829 371h1v1h-1zM831 375h1v1h-1zM832 376h1v1h-1zM833 377h1v1h-1zM837 381h1v1h-1zM843 384h1v1h-1zM844 385h1v1h-1zM845 386h1v1h-1zM849 388h1v1h-1zM850 389h1v1h-1zM851 390h1v1h-1zM855 393h1v2h-1zM856 395h1v1h-1zM859 399h1v2h-1zM860 401h1v1h-1zM863 405h1v1h-1zM871 411h1v1h-1zM877 415h1v1h-1zM881 417h1v1h-1zM887 419h1v1h-1zM893 421h1v1h-1zM899 418h1v1h-1zM1015 410h1v1h-1zM1019 408h1v1h-1zM1039 406h1v1h-1zM1043 408h1v1h-1zM1044 409h1v1h-1zM1045 410h1v1h-1zM1049 412h1v1h-1zM1050 413h1v1h-1zM1051 414h1v1h-1zM1057 417h1v1h-1zM1073 414h1v2h-1zM1074 413h1v1h-1z" fill="#000" shape-rendering="crispEdges"/>
<path d="M232 192h5v1h-5zM227 193h5v1h-5zM237 193h2v1h-2zM225 194h2v1h-2zM241 196h2v1h-2zM221 197h2v1h-2zM218 199h2v1h-2zM216 200h2v1h-2zM214 201h2v1h-2zM211 202h3v1h-3zM209 203h2v1h-2zM205 204h4v1h-4zM201 205h4v1h-4zM198 206h3v1h-3zM440 232h24v1h-24zM435 233h5v1h-5zM464 233h6v1h-6zM432 234h3v1h-3zM470 234h3v1h-3zM430 235h2v1h-2zM473 235h2v1h-2zM428 236h2v1h-2zM475 236h2v1h-2zM426 237h2v1h-2zM424 238h2v1h-2zM478 238h2v1h-2zM422 239h2v1h-2zM480 239h2v1h-2zM483 241h2v1h-2zM486 243h2v1h-2zM416 244h2v1h-2zM490 246h2v1h-2zM492 247h2v1h-2zM494 248h2v1h-2zM531 248h4v1h-4zM496 249h2v1h-2zM528 249h3v1h-3zM535 249h5v1h-5zM498 250h2v1h-2zM524 250h4v1h-4zM540 250h5v1h-5zM500 251h2v1h-2zM518 251h6v1h-6zM545 251h5v1h-5zM560 251h10v1h-10zM502 252h16v1h-16zM550 252h10v1h-10zM570 252h4v1h-4zM574 253h2v1h-2zM578 256h2v1h-2zM396 263h2v1h-2zM390 268h2v1h-2zM386 271h2v1h-2zM383 273h2v1h-2zM6 274h4v1h-4zM4 275h2v1h-2zM10 275h5v1h-5zM380 275h2v1h-2zM2 276h2v1h-2zM15 276h6v1h-6zM378 276h2v1h-2zM0 277h2v1h-2zM21 277h4v1h-4zM25 278h2v1h-2zM375 278h2v1h-2zM27 279h2v1h-2zM144 279h2v1h-2zM373 279h2v1h-2zM30 281h2v1h-2zM370 281h2v1h-2zM368 282h2v1h-2zM34 284h2v1h-2zM57 284h5v1h-5zM138 284h2v1h-2zM365 284h2v1h-2zM52 285h5v1h-5zM62 285h2v1h-2zM363 285h2v1h-2zM50 286h2v1h-2zM64 286h3v1h-3zM48 287h2v1h-2zM67 287h2v1h-2zM134 287h2v1h-2zM360 287h2v1h-2zM39 288h2v1h-2zM46 288h2v1h-2zM69 288h2v1h-2zM44 289h2v1h-2zM131 289h2v1h-2zM42 290h2v1h-2zM310 290h2v1h-2zM356 290h2v1h-2zM312 291h2v1h-2zM127 292h2v1h-2zM314 292h3v1h-3zM353 292h2v1h-2zM317 293h2v1h-2zM351 293h2v1h-2zM319 294h5v1h-5zM349 294h2v1h-2zM613 294h4v1h-4zM324 295h6v1h-6zM346 295h3v1h-3zM617 295h13v1h-13zM122 296h2v1h-2zM330 296h8v1h-8zM344 296h2v1h-2zM767 296h23v1h-23zM338 297h6v1h-6zM631 297h2v1h-2zM765 297h2v1h-2zM790 297h4v1h-4zM762 298h3v1h-3zM794 298h3v1h-3zM760 299h2v1h-2zM797 299h2v1h-2zM635 300h2v1h-2zM757 300h3v1h-3zM799 300h2v1h-2zM754 301h3v1h-3zM638 302h2v1h-2zM750 302h4v1h-4zM802 302h2v1h-2zM114 303h2v1h-2zM640 303h2v1h-2zM748 303h2v1h-2zM642 304h2v1h-2zM644 305h2v1h-2zM745 305h2v1h-2zM806 305h2v1h-2zM88 306h2v1h-2zM646 306h2v1h-2zM90 307h2v1h-2zM648 307h2v1h-2zM92 308h2v1h-2zM108 308h2v1h-2zM650 308h4v1h-4zM810 308h2v1h-2zM94 309h2v1h-2zM654 309h3v1h-3zM740 309h2v1h-2zM96 310h2v1h-2zM105 310h2v1h-2zM657 310h4v1h-4zM98 311h3v1h-3zM103 311h2v1h-2zM661 311h5v1h-5zM101 312h2v1h-2zM666 312h15v1h-15zM815 312h2v1h-2zM681 313h5v1h-5zM735 313h2v1h-2zM686 314h4v1h-4zM690 315h2v1h-2zM692 316h3v1h-3zM695 317h2v1h-2zM730 317h2v1h-2zM697 318h3v1h-3zM700 319h2v1h-2zM727 319h2v1h-2zM702 320h3v1h-3zM724 320h3v1h-3zM705 321h2v1h-2zM720 321h4v1h-4zM707 322h13v1h-13zM969 335h12v1h-12zM966 336h3v1h-3zM981 336h2v1h-2zM962 337h4v1h-4zM960 338h2v1h-2zM984 338h2v1h-2zM958 339h2v1h-2zM842 340h2v1h-2zM956 340h2v1h-2zM988 341h2v1h-2zM953 342h2v1h-2zM951 343h2v1h-2zM847 344h2v1h-2zM992 344h2v1h-2zM948 345h2v1h-2zM946 346h2v1h-2zM943 348h2v1h-2zM997 348h2v1h-2zM941 349h2v1h-2zM1000 350h2v1h-2zM938 351h2v1h-2zM1002 351h2v1h-2zM936 352h2v1h-2zM1004 352h2v1h-2zM1006 353h2v1h-2zM933 354h2v1h-2zM1008 354h2v1h-2zM931 355h2v1h-2zM1010 355h2v1h-2zM860 356h2v1h-2zM929 356h2v1h-2zM1012 356h2v1h-2zM862 357h2v1h-2zM926 357h3v1h-3zM1014 357h3v1h-3zM864 358h2v1h-2zM922 358h4v1h-4zM1017 358h2v1h-2zM866 359h2v1h-2zM919 359h3v1h-3zM1019 359h3v1h-3zM868 360h2v1h-2zM917 360h2v1h-2zM1022 360h3v1h-3zM870 361h2v1h-2zM1025 361h2v1h-2zM872 362h2v1h-2zM1027 362h2v1h-2zM874 363h2v1h-2zM1029 363h2v1h-2zM876 364h2v1h-2zM878 365h2v1h-2zM1033 366h2v1h-2zM881 367h2v1h-2zM883 368h2v1h-2zM1036 368h2v1h-2zM1038 369h2v1h-2zM886 370h2v1h-2zM1040 370h2v1h-2zM888 371h2v1h-2zM1042 371h2v1h-2zM1044 372h2v1h-2zM1046 373h2v1h-2zM1048 374h2v1h-2zM893 375h2v1h-2zM1050 375h2v1h-2zM901 376h2v1h-2zM1052 376h3v1h-3zM899 377h2v1h-2zM1055 377h4v1h-4zM897 378h2v1h-2zM1059 378h3v1h-3zM1062 379h3v1h-3zM1065 380h2v1h-2zM1067 381h6v1h-6zM1073 382h5v1h-5zM29 280h1v1h-1zM32 282h1v1h-1zM33 283h1v1h-1zM36 285h1v1h-1zM37 286h1v1h-1zM38 287h1v1h-1zM41 289h1v1h-1zM71 289h1v1h-1zM72 290h1v1h-1zM73 291h1v1h-1zM74 292h1v1h-1zM75 293h1v1h-1zM76 294h1v1h-1zM77 295h1v1h-1zM78 296h1v1h-1zM79 297h1v1h-1zM80 298h1v1h-1zM81 299h1v1h-1zM82 300h1v1h-1zM83 301h1v1h-1zM84 302h1v1h-1zM85 303h1v1h-1zM86 304h1v1h-1zM87 305h1v1h-1zM107 309h1v1h-1zM110 307h1v1h-1zM111 306h1v1h-1zM112 305h1v1h-1zM113 304h1v1h-1zM116 302h1v1h-1zM117 301h1v1h-1zM118 300h1v1h-1zM119 299h1v1h-1zM120 298h1v1h-1zM121 297h1v1h-1zM124 295h1v1h-1zM125 294h1v1h-1zM126 293h1v1h-1zM129 291h1v1h-1zM130 290h1v1h-1zM133 288h1v1h-1zM136 286h1v1h-1zM137 285h1v1h-1zM140 283h1v1h-1zM141 282h1v1h-1zM142 281h1v1h-1zM143 280h1v1h-1zM146 278h1v1h-1zM147 277h1v1h-1zM148 276h1v1h-1zM149 275h1v1h-1zM150 274h1v1h-1zM151 273h1v1h-1zM152 272h1v1h-1zM153 271h1v1h-1zM154 270h1v1h-1zM155 269h1v1h-1zM156 268h1v1h-1zM157 267h1v1h-1zM158 266h1v1h-1zM159 265h1v1h-1zM160 264h1v1h-1zM161 262h1v2h-1zM162 261h1v1h-1zM163 260h1v1h-1zM164 258h1v2h-1zM165 257h1v1h-1zM166 255h1v2h-1zM167 254h1v1h-1zM168 253h1v1h-1zM169 251h1v2h-1zM170 250h1v1h-1zM171 248h1v2h-1zM172 246h1v2h-1zM173 244h1v2h-1zM174 242h1v2h-1zM175 241h1v1h-1zM176 239h1v2h-1zM177 237h1v2h-1zM178 235h1v2h-1zM179 233h1v2h-1zM180 232h1v1h-1zM181 230h1v2h-1zM182 228h1v2h-1zM183 227h1v1h-1zM184 225h1v2h-1zM185 224h1v1h-1zM186 222h1v2h-1zM187 220h1v2h-1zM188 219h1v1h-1zM189 217h1v2h-1zM190 216h1v1h-1zM191 215h1v1h-1zM192 213h1v2h-1zM193 212h1v1h-1zM194 211h1v1h-1zM195 210h1v1h-1zM196 208h1v2h-1zM197 207h1v1h-1zM220 198h1v1h-1zM223 196h1v1h-1zM224 195h1v1h-1zM239 194h1v1h-1zM240 195h1v1h-1zM243 197h1v1h-1zM244 198h1v1h-1zM245 199h1v1h-1zM246 200h1v1h-1zM247 201h1v2h-1zM248 203h1v1h-1zM249 204h1v1h-1zM250 205h1v1h-1zM251 206h1v1h-1zM252 207h1v1h-1zM253 208h1v1h-1zM254 209h1v2h-1zM255 211h1v1h-1zM256 212h1v1h-1zM257 213h1v2h-1zM258 215h1v1h-1zM259 216h1v1h-1zM260 217h1v2h-1zM261 219h1v1h-1zM262 220h1v1h-1zM263 221h1v2h-1zM264 223h1v1h-1zM265 224h1v2h-1zM266 226h1v1h-1zM267 227h1v2h-1zM268 229h1v1h-1zM269 230h1v2h-1zM270 232h1v2h-1zM271 234h1v2h-1zM272 236h1v2h-1zM273 238h1v2h-1zM274 240h1v2h-1zM275 242h1v2h-1zM276 244h1v1h-1zM277 245h1v2h-1zM278 247h1v1h-1zM279 248h1v1h-1zM280 249h1v2h-1zM281 251h1v1h-1zM282 252h1v1h-1zM283 253h1v2h-1zM284 255h1v1h-1zM285 256h1v1h-1zM286 257h1v2h-1zM287 259h1v1h-1zM288 260h1v1h-1zM289 261h1v2h-1zM290 263h1v1h-1zM291 264h1v2h-1zM292 266h1v1h-1zM293 267h1v2h-1zM294 269h1v1h-1zM295 270h1v2h-1zM296 272h1v1h-1zM297 273h1v2h-1zM298 275h1v1h-1zM299 276h1v2h-1zM300 278h1v1h-1zM301 279h1v1h-1zM302 280h1v2h-1zM303 282h1v1h-1zM304 283h1v1h-1zM305 284h1v1h-1zM306 285h1v1h-1zM307 286h1v2h-1zM308 288h1v1h-1zM309 289h1v1h-1zM355 291h1v1h-1zM358 289h1v1h-1zM359 288h1v1h-1zM362 286h1v1h-1zM367 283h1v1h-1zM372 280h1v1h-1zM377 277h1v1h-1zM382 274h1v1h-1zM385 272h1v1h-1zM388 270h1v1h-1zM389 269h1v1h-1zM392 267h1v1h-1zM393 266h1v1h-1zM394 265h1v1h-1zM395 264h1v1h-1zM398 262h1v1h-1zM399 261h1v1h-1zM400 260h1v1h-1zM401 259h1v1h-1zM402 258h1v1h-1zM403 257h1v1h-1zM404 256h1v1h-1zM405 255h1v1h-1zM406 254h1v1h-1zM407 253h1v1h-1zM408 252h1v1h-1zM409 251h1v1h-1zM410 250h1v1h-1zM411 249h1v1h-1zM412 248h1v1h-1zM413 247h1v1h-1zM414 246h1v1h-1zM415 245h1v1h-1zM418 243h1v1h-1zM419 242h1v1h-1zM420 241h1v1h-1zM421 240h1v1h-1zM477 237h1v1h-1zM482 240h1v1h-1zM485 242h1v1h-1zM488 244h1v1h-1zM489 245h1v1h-1zM576 254h1v1h-1zM577 255h1v1h-1zM580 257h1v1h-1zM581 258h1v1h-1zM582 259h1v1h-1zM583 260h1v1h-1zM584 261h1v2h-1zM585 263h1v1h-1zM586 264h1v1h-1zM587 265h1v1h-1zM588 266h1v1h-1zM589 267h1v1h-1zM590 268h1v1h-1zM591 269h1v1h-1zM592 270h1v2h-1zM593 272h1v1h-1zM594 273h1v1h-1zM595 274h1v1h-1zM596 275h1v1h-1zM597 276h1v1h-1zM598 277h1v2h-1zM599 279h1v1h-1zM600 280h1v1h-1zM601 281h1v2h-1zM602 283h1v1h-1zM603 284h1v1h-1zM604 285h1v1h-1zM605 286h1v1h-1zM606 287h1v1h-1zM607 288h1v1h-1zM608 289h1v1h-1zM609 290h1v1h-1zM610 291h1v1h-1zM611 292h1v1h-1zM612 293h1v1h-1zM630 296h1v1h-1zM633 298h1v1h-1zM634 299h1v1h-1zM637 301h1v1h-1zM729 318h1v1h-1zM732 316h1v1h-1zM733 315h1v1h-1zM734 314h1v1h-1zM737 312h1v1h-1zM738 311h1v1h-1zM739 310h1v1h-1zM742 308h1v1h-1zM743 307h1v1h-1zM744 306h1v1h-1zM747 304h1v1h-1zM801 301h1v1h-1zM804 303h1v1h-1zM805 304h1v1h-1zM808 306h1v1h-1zM809 307h1v1h-1zM812 309h1v1h-1zM813 310h1v1h-1zM814 311h1v1h-1zM817 313h1v1h-1zM818 314h1v1h-1zM819 315h1v1h-1zM820 316h1v1h-1zM821 317h1v1h-1zM822 318h1v1h-1zM823 319h1v1h-1zM824 320h1v1h-1zM825 321h1v1h-1zM826 322h1v1h-1zM827 323h1v1h-1zM828 324h1v1h-1zM829 325h1v1h-1zM830 326h1v1h-1zM831 327h1v2h-1zM832 329h1v1h-1zM833 330h1v1h-1zM834 331h1v1h-1zM835 332h1v1h-1zM836 333h1v1h-1zM837 334h1v2h-1zM838 336h1v1h-1zM839 337h1v1h-1zM840 338h1v1h-1zM841 339h1v1h-1zM844 341h1v1h-1zM845 342h1v1h-1zM846 343h1v1h-1zM849 345h1v1h-1zM850 346h1v1h-1zM851 347h1v1h-1zM852 348h1v1h-1zM853 349h1v1h-1zM854 350h1v1h-1zM855 351h1v1h-1zM856 352h1v1h-1zM857 353h1v1h-1zM858 354h1v1h-1zM859 355h1v1h-1zM880 366h1v1h-1zM885 369h1v1h-1zM890 372h1v1h-1zM891 373h1v1h-1zM892 374h1v1h-1zM895 376h1v1h-1zM896 377h1v1h-1zM903 375h1v1h-1zM904 374h1v1h-1zM905 373h1v1h-1zM906 372h1v1h-1zM907 371h1v1h-1zM908 370h1v1h-1zM909 369h1v1h-1zM910 368h1v1h-1zM911 367h1v1h-1zM912 366h1v1h-1zM913 364h1v2h-1zM914 363h1v1h-1zM915 362h1v1h-1zM916 361h1v1h-1zM935 353h1v1h-1zM940 350h1v1h-1zM945 347h1v1h-1zM950 344h1v1h-1zM955 341h1v1h-1zM983 337h1v1h-1zM986 339h1v1h-1zM987 340h1v1h-1zM990 342h1v1h-1zM991 343h1v1h-1zM994 345h1v1h-1zM995 346h1v1h-1zM996 347h1v1h-1zM999 349h1v1h-1zM1031 364h1v1h-1zM1032 365h1v1h-1zM1035 367h1v1h-1z" fill="#8a2be2" shape-rendering="crispEdges"/>
<path d="M198 179h2v1h-2zM200 180h2v1h-2zM202 181h2v1h-2zM204 182h13v1h-13zM217 183h4v1h-4zM221 184h2v1h-2zM435 215h2v1h-2zM433 216h2v1h-2zM431 217h2v1h-2zM429 218h2v1h-2zM427 219h2v1h-2zM424 220h3v1h-3zM422 221h2v1h-2zM418 224h2v1h-2zM162 231h2v1h-2zM158 234h2v1h-2zM530 235h2v1h-2zM533 235h2v1h-2zM155 236h2v1h-2zM528 236h2v1h-2zM525 238h2v1h-2zM537 238h2v1h-2zM151 239h2v1h-2zM523 239h2v1h-2zM395 250h2v1h-2zM389 255h2v1h-2zM474 256h2v1h-2zM21 259h2v1h-2zM384 259h2v1h-2zM479 260h2v1h-2zM500 261h3v1h-3zM559 261h2v1h-2zM25 262h2v1h-2zM482 262h6v1h-6zM495 262h5v1h-5zM488 263h7v1h-7zM563 264h2v1h-2zM567 267h2v1h-2zM570 269h2v1h-2zM373 270h2v1h-2zM370 271h3v1h-3zM367 272h3v1h-3zM574 272h2v1h-2zM365 273h2v1h-2zM363 274h2v1h-2zM359 277h2v1h-2zM759 277h2v1h-2zM761 278h2v1h-2zM356 279h2v1h-2zM754 279h2v1h-2zM764 280h2v1h-2zM352 282h2v1h-2zM748 284h2v1h-2zM348 285h2v1h-2zM344 288h2v1h-2zM341 290h2v1h-2zM338 291h3v1h-3zM334 292h4v1h-4zM283 293h2v1h-2zM332 293h2v1h-2zM285 294h2v1h-2zM329 295h2v1h-2zM288 296h2v1h-2zM290 297h2v1h-2zM325 298h2v1h-2zM293 299h2v1h-2zM295 300h2v1h-2zM321 301h2v1h-2zM298 302h2v1h-2zM318 302h3v1h-3zM300 303h2v1h-2zM313 303h5v1h-5zM645 303h6v1h-6zM302 304h11v1h-11zM628 304h17v1h-17zM652 305h2v1h-2zM60 309h5v1h-5zM73 309h6v1h-6zM657 309h2v1h-2zM65 310h8v1h-8zM79 310h3v1h-3zM82 311h3v1h-3zM609 311h2v1h-2zM85 312h3v1h-3zM88 313h2v1h-2zM617 313h4v1h-4zM90 314h2v1h-2zM97 314h4v1h-4zM613 314h4v1h-4zM92 315h5v1h-5zM675 318h2v1h-2zM671 319h4v1h-4zM677 319h2v1h-2zM668 320h3v1h-3zM679 320h2v1h-2zM939 321h2v1h-2zM682 322h2v1h-2zM943 322h2v1h-2zM684 323h2v1h-2zM710 323h5v1h-5zM708 324h2v1h-2zM715 324h4v1h-4zM935 324h2v1h-2zM687 325h2v1h-2zM706 325h2v1h-2zM947 325h2v1h-2zM704 326h2v1h-2zM800 326h2v1h-2zM700 327h4v1h-4zM802 327h2v1h-2zM931 327h2v1h-2zM691 328h2v1h-2zM696 328h4v1h-4zM804 328h2v1h-2zM693 329h3v1h-3zM806 329h2v1h-2zM808 330h2v1h-2zM810 331h5v1h-5zM815 332h4v1h-4zM957 338h8v1h-8zM965 339h2v1h-2zM968 341h2v1h-2zM972 344h2v1h-2zM978 349h2v1h-2zM836 351h2v1h-2zM984 354h2v1h-2zM841 355h2v1h-2zM986 355h4v1h-4zM990 356h3v1h-3zM844 357h2v1h-2zM993 357h2v1h-2zM995 358h2v1h-2zM848 360h2v1h-2zM998 360h2v1h-2zM1002 363h2v1h-2zM1004 364h2v1h-2zM1006 365h2v1h-2zM1008 366h3v1h-3zM1011 367h2v1h-2zM1013 368h16v1h-16zM1029 369h2v1h-2zM1031 370h3v1h-3zM1034 371h2v1h-2zM1036 372h2v1h-2zM1039 374h2v1h-2zM1044 378h2v1h-2zM862 379h5v1h-5zM874 379h5v1h-5zM867 380h7v1h-7zM879 380h4v1h-4zM883 381h2v1h-2zM1048 381h2v1h-2zM885 382h2v1h-2zM1050 382h2v1h-2zM887 383h2v1h-2zM1052 383h2v1h-2zM889 384h2v1h-2zM891 385h2v1h-2zM1055 385h2v1h-2zM1057 386h2v1h-2zM1060 388h2v1h-2zM1063 390h2v1h-2zM1065 391h2v1h-2zM1075 392h2v1h-2zM1068 393h2v1h-2zM1072 393h3v1h-3zM1070 394h2v1h-2zM0 290h1v1h-1zM1 288h1v2h-1zM2 286h1v2h-1zM3 284h1v2h-1zM4 282h1v2h-1zM5 280h1v2h-1zM6 278h1v2h-1zM7 277h1v1h-1zM8 275h1v2h-1zM9 273h1v2h-1zM10 271h1v2h-1zM11 269h1v2h-1zM12 267h1v2h-1zM13 265h1v2h-1zM14 264h1v1h-1zM15 263h1v1h-1zM16 262h1v1h-1zM17 261h1v1h-1zM18 260h1v1h-1zM19 259h1v1h-1zM20 258h1v1h-1zM23 260h1v1h-1zM24 261h1v1h-1zM27 263h1v2h-1zM28 265h1v2h-1zM29 267h1v2h-1zM30 269h1v2h-1zM31 271h1v2h-1zM32 273h1v2h-1zM33 275h1v2h-1zM34 277h1v1h-1zM35 278h1v2h-1zM36 280h1v1h-1zM37 281h1v2h-1zM38 283h1v1h-1zM39 284h1v1h-1zM40 285h1v2h-1zM41 287h1v1h-1zM42 288h1v2h-1zM43 290h1v1h-1zM44 291h1v1h-1zM45 292h1v1h-1zM46 293h1v1h-1zM47 294h1v2h-1zM48 296h1v1h-1zM49 297h1v1h-1zM50 298h1v1h-1zM51 299h1v1h-1zM52 300h1v1h-1zM53 301h1v1h-1zM54 302h1v1h-1zM55 303h1v1h-1zM56 304h1v2h-1zM57 306h1v1h-1zM58 307h1v1h-1zM59 308h1v1h-1zM101 313h1v1h-1zM102 312h1v1h-1zM103 311h1v1h-1zM104 310h1v1h-1zM105 309h1v1h-1zM106 308h1v1h-1zM107 307h1v1h-1zM108 306h1v1h-1zM109 305h1v1h-1zM110 304h1v1h-1zM111 302h1v2h-1zM112 301h1v1h-1zM113 299h1v2h-1zM114 298h1v1h-1zM115 297h1v1h-1zM116 295h1v2h-1zM117 293h1v2h-1zM118 291h1v2h-1zM119 289h1v2h-1zM120 286h1v3h-1zM121 284h1v2h-1zM122 282h1v2h-1zM123 280h1v2h-1zM124 278h1v2h-1zM125 276h1v2h-1zM126 274h1v2h-1zM127 272h1v2h-1zM128 270h1v2h-1zM129 269h1v1h-1zM130 267h1v2h-1zM131 265h1v2h-1zM132 263h1v2h-1zM133 262h1v1h-1zM134 260h1v2h-1zM135 258h1v2h-1zM136 256h1v2h-1zM137 255h1v1h-1zM138 253h1v2h-1zM139 251h1v2h-1zM140 250h1v1h-1zM141 249h1v1h-1zM142 248h1v1h-1zM143 247h1v1h-1zM144 246h1v1h-1zM145 245h1v1h-1zM146 244h1v1h-1zM147 243h1v1h-1zM148 242h1v1h-1zM149 241h1v1h-1zM150 240h1v1h-1zM153 238h1v1h-1zM154 237h1v1h-1zM157 235h1v1h-1zM160 233h1v1h-1zM161 232h1v1h-1zM164 230h1v1h-1zM165 229h1v1h-1zM166 228h1v1h-1zM167 226h1v2h-1zM168 225h1v1h-1zM169 224h1v1h-1zM170 223h1v1h-1zM171 221h1v2h-1zM172 219h1v2h-1zM173 218h1v1h-1zM174 216h1v2h-1zM175 215h1v1h-1zM176 213h1v2h-1zM177 211h1v2h-1zM178 210h1v1h-1zM179 208h1v2h-1zM180 207h1v1h-1zM181 205h1v2h-1zM182 203h1v2h-1zM183 202h1v1h-1zM184 200h1v2h-1zM185 198h1v2h-1zM186 196h1v2h-1zM187 195h1v1h-1zM188 193h1v2h-1zM189 191h1v2h-1zM190 190h1v1h-1zM191 188h1v2h-1zM192 186h1v2h-1zM193 184h1v2h-1zM194 183h1v1h-1zM195 181h1v2h-1zM196 179h1v2h-1zM197 178h1v1h-1zM223 185h1v1h-1zM224 186h1v1h-1zM225 187h1v1h-1zM226 188h1v2h-1zM227 190h1v1h-1zM228 191h1v1h-1zM229 192h1v1h-1zM230 193h1v1h-1zM231 194h1v2h-1zM232 196h1v2h-1zM233 198h1v2h-1zM234 200h1v2h-1zM235 202h1v2h-1zM236 204h1v2h-1zM237 206h1v1h-1zM238 207h1v2h-1zM239 209h1v2h-1zM240 211h1v2h-1zM241 213h1v1h-1zM242 214h1v2h-1zM243 216h1v2h-1zM244 218h1v1h-1zM245 219h1v2h-1zM246 221h1v1h-1zM247 222h1v2h-1zM248 224h1v1h-1zM249 225h1v2h-1zM250 227h1v1h-1zM251 228h1v2h-1zM252 230h1v2h-1zM253 232h1v3h-1zM254 235h1v2h-1zM255 237h1v3h-1zM256 240h1v3h-1zM257 243h1v3h-1zM258 246h1v2h-1zM259 248h1v3h-1zM260 251h1v2h-1zM261 253h1v2h-1zM262 255h1v2h-1zM263 257h1v2h-1zM264 259h1v2h-1zM265 261h1v1h-1zM266 262h1v2h-1zM267 264h1v2h-1zM268 266h1v2h-1zM269 268h1v2h-1zM270 270h1v2h-1zM271 272h1v2h-1zM272 274h1v2h-1zM273 276h1v2h-1zM274 278h1v2h-1zM275 280h1v2h-1zM276 282h1v2h-1zM277 284h1v1h-1zM278 285h1v2h-1zM279 287h1v2h-1zM280 289h1v1h-1zM281 290h1v2h-1zM282 292h1v1h-1zM287 295h1v1h-1zM292 298h1v1h-1zM297 301h1v1h-1zM323 300h1v1h-1zM324 299h1v1h-1zM327 297h1v1h-1zM328 296h1v1h-1zM331 294h1v1h-1zM343 289h1v1h-1zM346 287h1v1h-1zM347 286h1v1h-1zM350 284h1v1h-1zM351 283h1v1h-1zM354 281h1v1h-1zM355 280h1v1h-1zM358 278h1v1h-1zM361 276h1v1h-1zM362 275h1v1h-1zM375 269h1v1h-1zM376 268h1v1h-1zM377 267h1v1h-1zM378 265h1v2h-1zM379 264h1v1h-1zM380 263h1v1h-1zM381 262h1v1h-1zM382 261h1v1h-1zM383 260h1v1h-1zM386 258h1v1h-1zM387 257h1v1h-1zM388 256h1v1h-1zM391 254h1v1h-1zM392 253h1v1h-1zM393 252h1v1h-1zM394 251h1v1h-1zM397 249h1v1h-1zM398 248h1v1h-1zM399 247h1v1h-1zM400 246h1v1h-1zM401 245h1v1h-1zM402 243h1v2h-1zM403 242h1v1h-1zM404 241h1v1h-1zM405 240h1v1h-1zM406 238h1v2h-1zM407 237h1v1h-1zM408 236h1v1h-1zM409 235h1v1h-1zM410 233h1v2h-1zM411 232h1v1h-1zM412 231h1v1h-1zM413 229h1v2h-1zM414 228h1v1h-1zM415 227h1v1h-1zM416 226h1v1h-1zM417 225h1v1h-1zM420 223h1v1h-1zM421 222h1v1h-1zM437 214h1v1h-1zM438 215h1v1h-1zM439 216h1v1h-1zM440 217h1v1h-1zM441 218h1v1h-1zM442 219h1v1h-1zM443 220h1v1h-1zM444 221h1v1h-1zM445 222h1v1h-1zM446 223h1v2h-1zM447 225h1v1h-1zM448 226h1v2h-1zM449 228h1v2h-1zM450 230h1v1h-1zM451 231h1v2h-1zM452 233h1v1h-1zM453 234h1v1h-1zM454 235h1v1h-1zM455 236h1v1h-1zM456 237h1v1h-1zM457 238h1v2h-1zM458 240h1v1h-1zM459 241h1v1h-1zM460 242h1v1h-1zM461 243h1v1h-1zM462 244h1v1h-1zM463 245h1v1h-1zM464 246h1v1h-1zM465 247h1v1h-1zM466 248h1v1h-1zM467 249h1v1h-1zM468 250h1v1h-1zM469 251h1v1h-1zM470 252h1v1h-1zM471 253h1v1h-1zM472 254h1v1h-1zM473 255h1v1h-1zM476 257h1v1h-1zM477 258h1v1h-1zM478 259h1v1h-1zM481 261h1v1h-1zM503 260h1v1h-1zM504 259h1v1h-1zM505 258h1v1h-1zM506 257h1v1h-1zM507 255h1v2h-1zM508 254h1v1h-1zM509 253h1v1h-1zM510 252h1v1h-1zM511 251h1v1h-1zM512 250h1v1h-1zM513 249h1v1h-1zM514 248h1v1h-1zM515 247h1v1h-1zM516 246h1v1h-1zM517 245h1v1h-1zM518 244h1v1h-1zM519 243h1v1h-1zM520 242h1v1h-1zM521 241h1v1h-1zM522 240h1v1h-1zM527 237h1v1h-1zM532 234h1v1h-1zM535 236h1v1h-1zM536 237h1v1h-1zM539 239h1v1h-1zM540 240h1v1h-1zM541 241h1v1h-1zM542 242h1v1h-1zM543 243h1v1h-1zM544 244h1v1h-1zM545 245h1v2h-1zM546 247h1v1h-1zM547 248h1v1h-1zM548 249h1v1h-1zM549 250h1v1h-1zM550 251h1v1h-1zM551 252h1v1h-1zM552 253h1v1h-1zM553 254h1v1h-1zM554 255h1v2h-1zM555 257h1v1h-1zM556 258h1v1h-1zM557 259h1v1h-1zM558 260h1v1h-1zM561 262h1v1h-1zM562 263h1v1h-1zM565 265h1v1h-1zM566 266h1v1h-1zM569 268h1v1h-1zM572 270h1v1h-1zM573 271h1v1h-1zM576 273h1v1h-1zM577 274h1v1h-1zM578 275h1v1h-1zM579 276h1v2h-1zM580 278h1v1h-1zM581 279h1v1h-1zM582 280h1v1h-1zM583 281h1v1h-1zM584 282h1v2h-1zM585 284h1v1h-1zM586 285h1v2h-1zM587 287h1v1h-1zM588 288h1v1h-1zM589 289h1v2h-1zM590 291h1v1h-1zM591 292h1v1h-1zM592 293h1v1h-1zM593 294h1v1h-1zM594 295h1v2h-1zM595 297h1v1h-1zM596 298h1v1h-1zM597 299h1v1h-1zM598 300h1v1h-1zM599 301h1v1h-1zM600 302h1v1h-1zM601 303h1v1h-1zM602 304h1v1h-1zM603 305h1v1h-1zM604 306h1v1h-1zM605 307h1v1h-1zM606 308h1v1h-1zM607 309h1v1h-1zM608 310h1v1h-1zM611 312h1v1h-1zM612 313h1v1h-1zM621 312h1v1h-1zM622 311h1v1h-1zM623 310h1v1h-1zM624 308h1v2h-1zM625 307h1v1h-1zM626 306h1v1h-1zM627 305h1v1h-1zM651 304h1v1h-1zM654 306h1v1h-1zM655 307h1v1h-1zM656 308h1v1h-1zM659 310h1v1h-1zM660 311h1v1h-1zM661 312h1v1h-1zM662 313h1v1h-1zM663 314h1v1h-1zM664 315h1v2h-1zM665 317h1v1h-1zM666 318h1v1h-1zM667 319h1v1h-1zM681 321h1v1h-1zM686 324h1v1h-1zM689 326h1v1h-1zM690 327h1v1h-1zM719 323h1v1h-1zM720 322h1v1h-1zM721 321h1v1h-1zM722 320h1v1h-1zM723 319h1v1h-1zM724 318h1v1h-1zM725 317h1v1h-1zM726 316h1v1h-1zM727 314h1v2h-1zM728 312h1v2h-1zM729 310h1v2h-1zM730 308h1v2h-1zM731 307h1v1h-1zM732 305h1v2h-1zM733 303h1v2h-1zM734 301h1v2h-1zM735 299h1v2h-1zM736 298h1v1h-1zM737 297h1v1h-1zM738 295h1v2h-1zM739 294h1v1h-1zM740 293h1v1h-1zM741 292h1v1h-1zM742 291h1v1h-1zM743 289h1v2h-1zM744 288h1v1h-1zM745 287h1v1h-1zM746 286h1v1h-1zM747 285h1v1h-1zM750 283h1v1h-1zM751 282h1v1h-1zM752 281h1v1h-1zM753 280h1v1h-1zM756 278h1v1h-1zM757 277h1v1h-1zM758 276h1v1h-1zM763 279h1v1h-1zM766 281h1v1h-1zM767 282h1v1h-1zM768 283h1v1h-1zM769 284h1v1h-1zM770 285h1v1h-1zM771 286h1v2h-1zM772 288h1v1h-1zM773 289h1v1h-1zM774 290h1v1h-1zM775 291h1v1h-1zM776 292h1v1h-1zM777 293h1v2h-1zM778 295h1v2h-1zM779 297h1v2h-1zM780 299h1v1h-1zM781 300h1v2h-1zM782 302h1v2h-1zM783 304h1v1h-1zM784 305h1v2h-1zM785 307h1v2h-1zM786 309h1v2h-1zM787 311h1v1h-1zM788 312h1v2h-1zM789 314h1v2h-1zM790 316h1v1h-1zM791 317h1v1h-1zM792 318h1v1h-1zM793 319h1v1h-1zM794 320h1v1h-1zM795 321h1v1h-1zM796 322h1v1h-1zM797 323h1v1h-1zM798 324h1v1h-1zM799 325h1v1h-1zM819 333h1v1h-1zM820 334h1v1h-1zM821 335h1v1h-1zM822 336h1v1h-1zM823 337h1v1h-1zM824 338h1v1h-1zM825 339h1v1h-1zM826 340h1v1h-1zM827 341h1v1h-1zM828 342h1v1h-1zM829 343h1v2h-1zM830 345h1v1h-1zM831 346h1v1h-1zM832 347h1v1h-1zM833 348h1v1h-1zM834 349h1v1h-1zM835 350h1v1h-1zM838 352h1v1h-1zM839 353h1v1h-1zM840 354h1v1h-1zM843 356h1v1h-1zM846 358h1v1h-1zM847 359h1v1h-1zM850 361h1v1h-1zM851 362h1v1h-1zM852 363h1v2h-1zM853 365h1v1h-1zM854 366h1v1h-1zM855 367h1v2h-1zM856 369h1v1h-1zM857 370h1v1h-1zM858 371h1v2h-1zM859 373h1v2h-1zM860 375h1v2h-1zM861 377h1v2h-1zM893 386h1v1h-1zM894 384h1v2h-1zM895 383h1v1h-1zM896 381h1v2h-1zM897 379h1v2h-1zM898 378h1v1h-1zM899 376h1v2h-1zM900 375h1v1h-1zM901 373h1v2h-1zM902 372h1v1h-1zM903 370h1v2h-1zM904 368h1v2h-1zM905 366h1v2h-1zM906 365h1v1h-1zM907 363h1v2h-1zM908 361h1v2h-1zM909 359h1v2h-1zM910 358h1v1h-1zM911 356h1v2h-1zM912 354h1v2h-1zM913 352h1v2h-1zM914 350h1v2h-1zM915 348h1v2h-1zM916 346h1v2h-1zM917 345h1v1h-1zM918 343h1v2h-1zM919 342h1v1h-1zM920 340h1v2h-1zM921 339h1v1h-1zM922 338h1v1h-1zM923 336h1v2h-1zM924 335h1v1h-1zM925 334h1v1h-1zM926 333h1v1h-1zM927 331h1v2h-1zM928 330h1v1h-1zM929 329h1v1h-1zM930 328h1v1h-1zM933 326h1v1h-1zM934 325h1v1h-1zM937 323h1v1h-1zM938 322h1v1h-1zM941 320h1v1h-1zM942 321h1v1h-1zM945 323h1v1h-1zM946 324h1v1h-1zM949 326h1v1h-1zM950 327h1v1h-1zM951 328h1v2h-1zM952 330h1v1h-1zM953 331h1v2h-1zM954 333h1v2h-1zM955 335h1v1h-1zM956 336h1v2h-1zM967 340h1v1h-1zM970 342h1v1h-1zM971 343h1v1h-1zM974 345h1v1h-1zM975 346h1v1h-1zM976 347h1v1h-1zM977 348h1v1h-1zM980 350h1v1h-1zM981 351h1v1h-1zM982 352h1v1h-1zM983 353h1v1h-1zM997 359h1v1h-1zM1000 361h1v1h-1zM1001 362h1v1h-1zM1038 373h1v1h-1zM1041 375h1v1h-1zM1042 376h1v1h-1zM1043 377h1v1h-1zM1046 379h1v1h-1zM1047 380h1v1h-1zM1054 384h1v1h-1zM1059 387h1v1h-1zM1062 389h1v1h-1zM1067 392h1v1h-1z" fill="#ffa500" shape-rendering="crispEdges"/>
<rect x="0" y="428" width="1095" height="2" fill="#ff0000" shape-rendering="crispEdges"/>
<g shape-rendering="crispEdges"><rect x="1094" y="0" width="1" height="444" fill="#000"/><rect x="1095" y="12" width="2" height="1" fill="#000"/><rect x="1095" y="45" width="2" height="1" fill="#000"/><rect x="1095" y="78" width="2" height="1" fill="#000"/><rect x="1095" y="111" width="2" height="1" fill="#000"/><rect x="1095" y="144" width="2" height="1" fill="#000"/><rect x="1095" y="177" width="2" height="1" fill="#000"/><rect x="1095" y="210" width="2" height="1" fill="#000"/><rect x="1095" y="243" width="2" height="1" fill="#000"/><rect x="1095" y="276" width="2" height="1" fill="#000"/><rect x="1095" y="309" width="2" height="1" fill="#000"/><rect x="1095" y="342" width="2" height="1" fill="#000"/><rect x="1095" y="375" width="2" height="1" fill="#000"/><rect x="1095" y="408" width="2" height="1" fill="#000"/><rect x="1095" y="441" width="2" height="1" fill="#000"/></g>
<text class="ax" x="1099.5" y="16">112.30</text>
<text class="ax" x="1099.5" y="49">107.80</text>
<text class="ax" x="1099.5" y="82">103.30</text>
<text class="ax" x="1099.5" y="115">98.80</text>
<text class="ax" x="1099.5" y="148">94.20</text>
<text class="ax" x="1099.5" y="181">89.70</text>
<text class="ax" x="1099.5" y="214">85.20</text>
<text class="ax" x="1099.5" y="247">80.70</text>
<text class="ax" x="1099.5" y="280">76.10</text>
<text class="ax" x="1099.5" y="313">71.60</text>
<text class="ax" x="1099.5" y="346">67.10</text>
<text class="ax" x="1099.5" y="379">62.60</text>
<text class="ax" x="1099.5" y="412">58.00</text>
<text class="ax" x="1099.5" y="445">53.50</text>
<rect x="1096" y="378" width="31" height="11" fill="#000" shape-rendering="crispEdges"/><text class="ax" x="1099.5" y="387" style="fill:#fff">61.52</text>
<rect x="1096" y="423" width="31" height="11" fill="#ff0000" shape-rendering="crispEdges"/><text class="ax" x="1099.5" y="432" style="fill:#fff">55.16</text>
<g shape-rendering="crispEdges"><rect x="1077" y="382" width="1" height="3" fill="#000"/><rect x="1078" y="383" width="2" height="1" fill="#000"/></g>
<text class="ttl" x="47.4 71.9 96 119" y="43.7">原油W1</text>
</svg>
</body></html>
